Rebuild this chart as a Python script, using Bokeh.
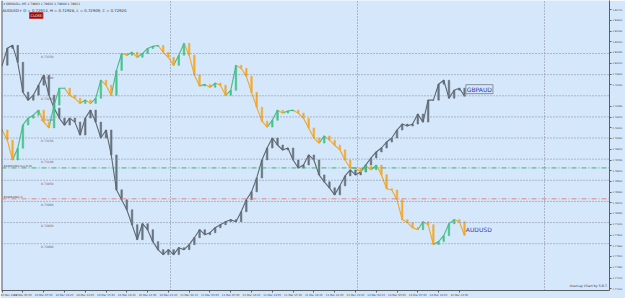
from bokeh.plotting import figure
from bokeh.models import Range1d, FixedTicker, Span, Label, PrintfTickFormatter
from bokeh.embed import file_html
from bokeh.resources import INLINE
from bokeh.core.properties import value

# ---------------- data ----------------
# bar times: trading minutes since 10 Mar 2022 02:25 (weekend removed), one bar per 40 min
bar_minutes = [i * 40 for i in range(90)]

gbpaud_close = [
    1.80016, 1.80237, 1.80276, 1.80055, 1.79665, 1.79561, 1.79626, 1.79756, 1.79886, 1.79626,
    1.79457, 1.79327, 1.79236, 1.79327, 1.79275, 1.79106, 1.79327, 1.79431, 1.79275, 1.79067,
    1.79171, 1.78846, 1.78391, 1.78261, 1.78131, 1.77936, 1.77741, 1.77949, 1.77871, 1.77715,
    1.77611, 1.77546, 1.77611, 1.77546, 1.77637, 1.77611, 1.77676, 1.77767, 1.77871, 1.77806,
    1.77832, 1.77897, 1.77936, 1.77975, 1.78001, 1.77975, 1.78105, 1.78261, 1.78365, 1.78547,
    1.78781, 1.78937, 1.79067, 1.78976, 1.78911, 1.78937, 1.78781, 1.78677, 1.78716, 1.78846,
    1.78781, 1.78586, 1.78495, 1.78417, 1.78326, 1.78443, 1.78573, 1.78651, 1.78586, 1.78625,
    1.78716, 1.78807, 1.78885, 1.78937, 1.79015, 1.79067, 1.79171, 1.79249, 1.79223, 1.79249,
    1.79379, 1.79275, 1.79561, 1.79561, 1.79769, 1.79821, 1.79587, 1.79691, 1.79717, 1.79613,
]

audusd_close = [
    0.73169, 0.73145, 0.73098, 0.73126, 0.73181, 0.73197, 0.73204, 0.73216, 0.73188, 0.73174,
    0.73228, 0.73268, 0.73268, 0.73251, 0.73244, 0.73232, 0.73240, 0.73232, 0.73244, 0.73287,
    0.73275, 0.73251, 0.73310, 0.73350, 0.73346, 0.73353, 0.73341, 0.73350, 0.73362, 0.73367,
    0.73369, 0.73353, 0.73341, 0.73322, 0.73346, 0.73374, 0.73346, 0.73299, 0.73273, 0.73277,
    0.73270, 0.73280, 0.73275, 0.73251, 0.73263, 0.73322, 0.73315, 0.73296, 0.73258, 0.73223,
    0.73190, 0.73176, 0.73192, 0.73216, 0.73209, 0.73214, 0.73216, 0.73209, 0.73197, 0.73174,
    0.73150, 0.73138, 0.73155, 0.73145, 0.73133, 0.73122, 0.73098, 0.73079, 0.73079, 0.73070,
    0.73084, 0.73075, 0.73086, 0.73063, 0.73030, 0.73027, 0.73004, 0.72957, 0.72950, 0.72938,
    0.72933, 0.72952, 0.72945, 0.72898, 0.72905, 0.72919, 0.72947, 0.72957, 0.72952, 0.72920,
]

time_tick_minutes = [i * 160 for i in range(23)]
time_tick_labels = [
    "10 Mar 2022", "10 Mar 05:05", "10 Mar 07:45", "10 Mar 10:25", "10 Mar 13:05",
    "10 Mar 15:45", "10 Mar 18:25", "10 Mar 21:05", "10 Mar 23:45", "11 Mar 02:25",
    "11 Mar 05:05", "11 Mar 07:45", "11 Mar 10:25", "11 Mar 13:05", "11 Mar 15:45",
    "11 Mar 18:25", "11 Mar 21:05", "11 Mar 23:45", "14 Mar 02:25", "14 Mar 05:05",
    "14 Mar 07:45", "14 Mar 10:25", "14 Mar 13:05",
]
day_break_minutes = [1295, 2735, 4175]   # 11 Mar 00:00, 14 Mar 00:00, 15 Mar 00:00

gbpaud_ticks = [
    1.77100, 1.77240, 1.77380, 1.77520, 1.77660, 1.77800, 1.77940, 1.78080, 1.78220,
    1.78360, 1.78500, 1.78640, 1.78780, 1.78920, 1.79060, 1.79200, 1.79340, 1.79480,
    1.79760, 1.79900, 1.80040, 1.80180, 1.80320, 1.80460, 1.80600, 1.80740,
]
audusd_levels = [0.72900, 0.72950, 0.73000, 0.73050, 0.73100,
                 0.73150, 0.73200, 0.73250, 0.73300, 0.73350]

order_open_price = 1.78677
order_sl_price = 1.78274

title_line1 = "\u25be GBPAUD+,M5  1.79603 1.79603 1.79600 1.79613"
title_line2 = "AUDUSD+ O = 0.72914, H = 0.72928, L = 0.72909, C = 0.72920"

# ---------------- styling ----------------
BG = "#d5e7fb"
GRID = "#7c8694"
GRAY = "#5e6872"
UP = "#3fbf85"
DOWN = "#f5a623"
FONT = value("DejaVu Sans")

p = figure(width=625, height=298,
           x_range=Range1d(-5, 4676), y_range=Range1d(1.77078, 1.80861),
           output_backend="svg", toolbar_location=None,
           y_axis_location="right",
           min_border_left=1, min_border_right=14, min_border_top=0, min_border_bottom=7,
           background_fill_color=BG, border_fill_color=BG)
p.outline_line_color = None
p.extra_y_ranges = {"aud": Range1d(0.727892, 0.734755)}

# axes
ya = p.yaxis[0]
ya.ticker = FixedTicker(ticks=gbpaud_ticks)
ya.formatter = PrintfTickFormatter(format="%.5f")
ya.major_label_text_font_size = "2.4px"
ya.major_label_text_font = "DejaVu Sans"
ya.major_label_text_color = "#404850"
ya.major_tick_out = 2
ya.major_tick_in = 0
ya.minor_tick_line_color = None
ya.major_label_standoff = 1
ya.axis_line_color = "#5a5f66"
ya.major_tick_line_color = "#5a5f66"

xa = p.xaxis[0]
xa.ticker = FixedTicker(ticks=time_tick_minutes)
xa.major_label_overrides = {m: s for m, s in zip(time_tick_minutes, time_tick_labels)}
xa.major_label_text_font_size = "2.7px"
xa.major_label_text_font = "DejaVu Sans"
xa.major_label_text_color = "#404850"
xa.major_label_text_align = "left"
xa.major_tick_out = 2
xa.major_tick_in = 0
xa.minor_tick_line_color = None
xa.major_label_standoff = 0
xa.axis_line_color = "#5a5f66"
xa.major_tick_line_color = "#5a5f66"

p.ygrid.visible = False
p.xgrid.ticker = FixedTicker(ticks=day_break_minutes)
p.xgrid.grid_line_color = GRID
p.xgrid.grid_line_dash = "1 2"
p.xgrid.grid_line_width = 1

# left frame line
p.add_layout(Span(location=-5, dimension="height", line_color="#5a5f66", line_width=2))

# AUDUSD level grid + labels
for lv in audusd_levels:
    p.add_layout(Span(location=lv, dimension="width", y_range_name="aud",
                      line_color=GRID, line_dash="1 2", line_width=1))
p.text(x=[300] * len(audusd_levels), y=audusd_levels,
       text=["%.5f" % v for v in audusd_levels], y_range_name="aud",
       text_font=FONT, text_font_size="3px", text_color="#5c6470",
       text_baseline="top", y_offset=1)

# order lines
p.add_layout(Span(location=order_open_price, dimension="width",
                  line_color="#3cb371", line_dash="5 2 1 2", line_width=1))
p.add_layout(Span(location=order_sl_price, dimension="width",
                  line_color="#e0887e", line_dash="5 2 1 2", line_width=1))
p.text(x=[10, 10], y=[order_open_price, order_sl_price],
       text=["#38962082 buy 0.01", "#38962082 sl"],
       text_font=FONT, text_font_size="2.7px", text_color="#404850",
       text_baseline="bottom", y_offset=-1)

# GBPAUD candles (gray)
g_open = [gbpaud_close[0]] + gbpaud_close[:-1]
p.line(bar_minutes, gbpaud_close, line_color=GRAY, line_width=1.1)
p.vbar(x=bar_minutes, width=12,
       top=[max(o, c) for o, c in zip(g_open, gbpaud_close)],
       bottom=[min(o, c) for o, c in zip(g_open, gbpaud_close)],
       fill_color=GRAY, line_color=GRAY, line_width=0.5, fill_alpha=0.9)

# AUDUSD candles (green up / orange down)
a_open = [audusd_close[0]] + audusd_close[:-1]
a_cols = [UP if c >= o else DOWN for o, c in zip(a_open, audusd_close)]
p.segment(x0=bar_minutes[:-1], y0=audusd_close[:-1], x1=bar_minutes[1:], y1=audusd_close[1:],
          line_color=a_cols[1:], line_width=1.1, y_range_name="aud")
p.vbar(x=bar_minutes, width=12,
       top=[max(o, c) for o, c in zip(a_open, audusd_close)],
       bottom=[min(o, c) for o, c in zip(a_open, audusd_close)],
       fill_color=a_cols, line_color=a_cols, line_width=0.5, fill_alpha=0.9,
       y_range_name="aud")

# series labels
p.add_layout(Label(x=bar_minutes[-1] + 10, y=gbpaud_close[-1], text="GBPAUD",
                   text_font="DejaVu Sans", text_font_size="6px", text_color="#2e3aa8",
                   text_baseline="middle", y_offset=7,
                   border_line_color="#8a8f99", border_line_width=1, padding=1))
p.add_layout(Label(x=bar_minutes[-1] + 10, y=audusd_close[-1], text="AUDUSD",
                   y_range_name="aud",
                   text_font="DejaVu Sans", text_font_size="6px", text_color="#3b44a8",
                   text_baseline="middle", y_offset=6))

# current price box on right scale
p.add_layout(Label(x=4676, y=gbpaud_close[-1], text="%.5f" % gbpaud_close[-1],
                   x_offset=2, text_font="DejaVu Sans", text_font_size="2.4px",
                   text_color="white", text_baseline="middle",
                   background_fill_color="black", padding=1))

# header texts
p.add_layout(Label(x=2, y=289, x_units="screen", y_units="screen", text=title_line1,
                   text_font="DejaVu Sans", text_font_size="3px", text_color="#303840",
                   text_baseline="top"))
p.add_layout(Label(x=1, y=283, x_units="screen", y_units="screen", text=title_line2,
                   text_font="DejaVu Sans", text_font_size="3.8px", text_color="#303840",
                   text_baseline="top"))
p.add_layout(Label(x=28, y=278, x_units="screen", y_units="screen", text="CLOSE",
                   text_font="DejaVu Sans", text_font_size="3.5px", text_color="white",
                   text_baseline="top", background_fill_color="#8e1010",
                   border_line_color="#c04040", padding=1))
p.add_layout(Label(x=606, y=3, x_units="screen", y_units="screen",
                   text="OverLay Chart by S.B.T.",
                   text_font="DejaVu Sans", text_font_size="3.2px", text_color="#303840",
                   text_align="right", text_baseline="bottom"))

open("out.html", "w").write(file_html(p, INLINE))
